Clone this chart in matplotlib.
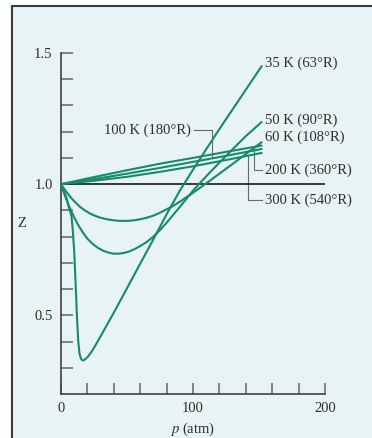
import numpy as np
import matplotlib
matplotlib.use('Agg')
import matplotlib.pyplot as plt
from matplotlib.patches import Rectangle
from matplotlib.ticker import FixedLocator, NullFormatter

# Z vs p curves (p in atm)
p_35 = [0, 2, 4, 6, 7, 8, 9, 10, 11, 12, 13, 14, 15, 16, 17, 18.5, 20.5, 23, 26, 30,
        40, 55, 70, 80, 90, 100, 110, 120, 130, 140, 152]
z_35 = [1.0, 0.975, 0.95, 0.91, 0.895, 0.876, 0.82, 0.745, 0.63, 0.505, 0.405, 0.355, 0.336,
        0.329, 0.328, 0.333, 0.343, 0.36, 0.385, 0.42,
        0.51, 0.65, 0.79, 0.885, 0.975, 1.055, 1.133, 1.21, 1.285, 1.36, 1.45]

p_50 = [0, 2, 4, 6, 8, 10, 13, 16, 20, 24, 28, 32, 36, 40, 44, 48, 52, 56, 60, 65, 70,
        75, 80, 85, 90, 95, 100, 110, 120, 130, 140, 152]
z_50 = [1.0, 0.97, 0.943, 0.918, 0.895, 0.873, 0.845, 0.82, 0.792, 0.772, 0.757, 0.746,
        0.739, 0.735, 0.735, 0.738, 0.744, 0.753, 0.764, 0.78, 0.80,
        0.825, 0.853, 0.883, 0.913, 0.944, 0.975, 1.03, 1.082, 1.133, 1.183, 1.237]

p_60 = [0, 2, 4, 6, 8, 11, 14, 18, 22, 26, 30, 35, 40, 45, 50, 55, 60, 65, 70, 75, 80,
        85, 90, 95, 100, 105, 110, 120, 130, 140, 152]
z_60 = [1.0, 0.985, 0.971, 0.958, 0.946, 0.93, 0.915, 0.9, 0.888, 0.879, 0.872, 0.866,
        0.862, 0.86, 0.86, 0.862, 0.866, 0.872, 0.88, 0.891, 0.904,
        0.917, 0.933, 0.95, 0.967, 0.985, 1.003, 1.04, 1.077, 1.115, 1.16]

p_hi = [0, 25, 50, 75, 100, 125, 152]
z_200 = [1.0, 1.027, 1.053, 1.078, 1.10, 1.123, 1.147]
z_100 = [1.0, 1.019, 1.04, 1.062, 1.085, 1.108, 1.134]
z_300 = [1.0, 1.013, 1.028, 1.047, 1.068, 1.092, 1.119]

labels = ['35 K (63°R)', '50 K (90°R)', '60 K (108°R)',
          '100 K (180°R)', '200 K (360°R)', '300 K (540°R)']

x_ticks = [0, 20, 40, 60, 80, 100, 120, 140, 160, 180, 200]
x_labels = [0, 100, 200]
y_ticks = [0.3, 0.4, 0.5, 0.6, 0.7, 0.8, 0.9, 1.0, 1.1, 1.2, 1.3, 1.4, 1.5]
y_labels = [0.5, 1.0, 1.5]

GREEN = '#178a6b'
BG = '#e7f3f4'
TXT = '#2e2e2e'
LEAD = '#6a6a6a'

plt.rcParams['font.family'] = ['Liberation Serif', 'DejaVu Serif']
plt.rcParams['mathtext.fontset'] = 'stix'

fig = plt.figure(figsize=(3.72, 4.38), dpi=100)
fig.patch.set_facecolor('white')
# tinted panel with a frame on the left and top edge
fig.patches.append(Rectangle((11.5 / 372, -0.2), 1.5, (438 - 5.5) / 438 + 0.2,
                             transform=fig.transFigure, facecolor=BG,
                             edgecolor='#3a3a3a', linewidth=1.5, zorder=-10))

ax = fig.add_axes([61 / 372, 1 - 394 / 438, 264 / 372, 341 / 438])
ax.set_zorder(5)
ax.set_facecolor('none')
ax.set_xlim(0, 200)
ax.set_ylim(0.2, 1.5)

for s in ['top', 'right']:
    ax.spines[s].set_visible(False)
for s in ['left', 'bottom']:
    ax.spines[s].set_color('#404040')
    ax.spines[s].set_linewidth(1.2)

ax.xaxis.set_major_locator(FixedLocator(x_labels))
ax.xaxis.set_minor_locator(FixedLocator([t for t in x_ticks if t not in x_labels]))
ax.yaxis.set_major_locator(FixedLocator(y_labels))
ax.yaxis.set_minor_locator(FixedLocator([t for t in y_ticks if t not in y_labels]))
ax.xaxis.set_minor_formatter(NullFormatter())
ax.yaxis.set_minor_formatter(NullFormatter())
ax.set_xticklabels([str(v) for v in x_labels])
ax.set_yticklabels([f'{v:.1f}' for v in y_labels])
ax.tick_params(which='both', direction='in', color='#7a7a7a', width=1.3,
               labelsize=10.5, labelcolor=TXT)
ax.tick_params(axis='x', which='both', length=8, pad=6)
ax.tick_params(axis='y', which='both', length=8.5, pad=6)

ax.set_xlabel('$p$ (atm)', fontsize=10.5, color=TXT, labelpad=4)
ax.set_ylabel('Z', fontsize=10.5, color=TXT, rotation=0, labelpad=18)
ax.yaxis.set_label_coords(-0.15, 0.48)

ax.plot([0, 200], [1.0, 1.0], color='#1a1a1a', lw=1.2, zorder=2)

kw = dict(color=GREEN, lw=1.5, zorder=3, solid_capstyle='round', solid_joinstyle='round')
ax.plot(p_35, z_35, **kw)
ax.plot(p_50, z_50, **kw)
ax.plot(p_60, z_60, **kw)
ax.plot(p_hi, z_100, **kw)
ax.plot(p_hi, z_200, **kw)
ax.plot(p_hi, z_300, **kw)

tkw = dict(fontsize=10.5, color=TXT, va='center')
ax.text(154.5, z_35[-1] + 0.01, labels[0], ha='left', **tkw)
ax.text(154.5, z_50[-1] + 0.006, labels[1], ha='left', **tkw)
ax.text(154.5, 1.179, labels[2], ha='left', **tkw)

# 100 K leader
p_lead = 114.6
ax.plot([100.5, p_lead, p_lead], [1.207, 1.207, np.interp(p_lead, p_hi, z_100)],
        color=LEAD, lw=0.8, zorder=1)
ax.text(98.5, 1.207, labels[3], ha='right', **tkw)

# 200 K leader
p_lead = 146.2
ax.plot([p_lead, p_lead, 152], [np.interp(p_lead, p_hi, z_200), 1.053, 1.053],
        color=LEAD, lw=0.8, zorder=1)
ax.text(154.5, 1.053, labels[4], ha='left', **tkw)

# 300 K leader
p_lead = 141.9
ax.plot([p_lead, p_lead, 152], [np.interp(p_lead, p_hi, z_300), 0.939, 0.939],
        color=LEAD, lw=0.8, zorder=1)
ax.text(154.5, 0.939, labels[5], ha='left', **tkw)

fig.savefig('out.png', dpi=100)
